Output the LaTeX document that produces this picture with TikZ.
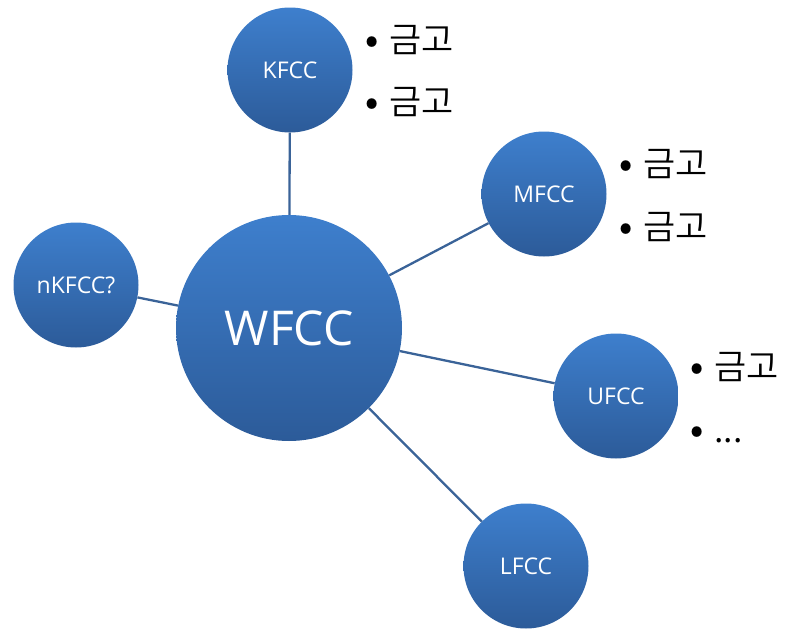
\documentclass[tikz,border=0pt]{standalone}
\usepackage{fontspec}
\setmainfont{Open Sans}
\newfontfamily\krfont{Noto Sans CJK KR DemiLight}
\definecolor{ctop}{HTML}{3E7FCD}
\definecolor{cbot}{HTML}{2C5B99}
\definecolor{cline}{HTML}{3A6398}
\newcommand{\bulline}[1]{\makebox[23pt][l]{\makebox[12pt][c]{\bfseries •}}#1}
\tikzset{
  bubble/.style={circle, inner sep=0pt, top color=ctop, bottom color=cbot, draw=none, text=white},
  small/.style={bubble, minimum size=125pt, font=\fontsize{23}{26}\selectfont},
  big/.style={bubble, minimum size=226pt, font=\fontsize{48}{54}\selectfont},
  conn/.style={draw=cline, line width=2.3pt},
  item/.style={anchor=base west, inner sep=0pt, font=\krfont\fontsize{35}{38}\selectfont, text=black}
}
\begin{document}
\begin{tikzpicture}[x=1pt,y=-1pt]
\useasboundingbox (0,0) rectangle (785,629);
\node[big] (w) at (289,328) {WFCC};
\node[small] (k) at (290,70) {KFCC};
\node[small] (m) at (544,194) {MFCC};
\node[small] (n) at (76,285) {nKFCC?};
\node[small] (u) at (616,396) {UFCC};
\node[small] (l) at (526,566) {LFCC};
\draw[conn] (k) -- (w);
\draw[conn] (m) -- (w);
\draw[conn] (n) -- (w);
\draw[conn] (u) -- (w);
\draw[conn] (l) -- (w);
\node[item] (k1) at (366,52) {\bulline{금고}};
\node[item] (k2) at (366,114) {\bulline{금고}};
\node[item] (m1) at (620,176) {\bulline{금고}};
\node[item] (m2) at (620,239) {\bulline{금고}};
\node[item] (u1) at (691,379) {\bulline{금고}};
\node[item] (u2) at (691,442) {\bulline{...}};
\end{tikzpicture}
\end{document}
